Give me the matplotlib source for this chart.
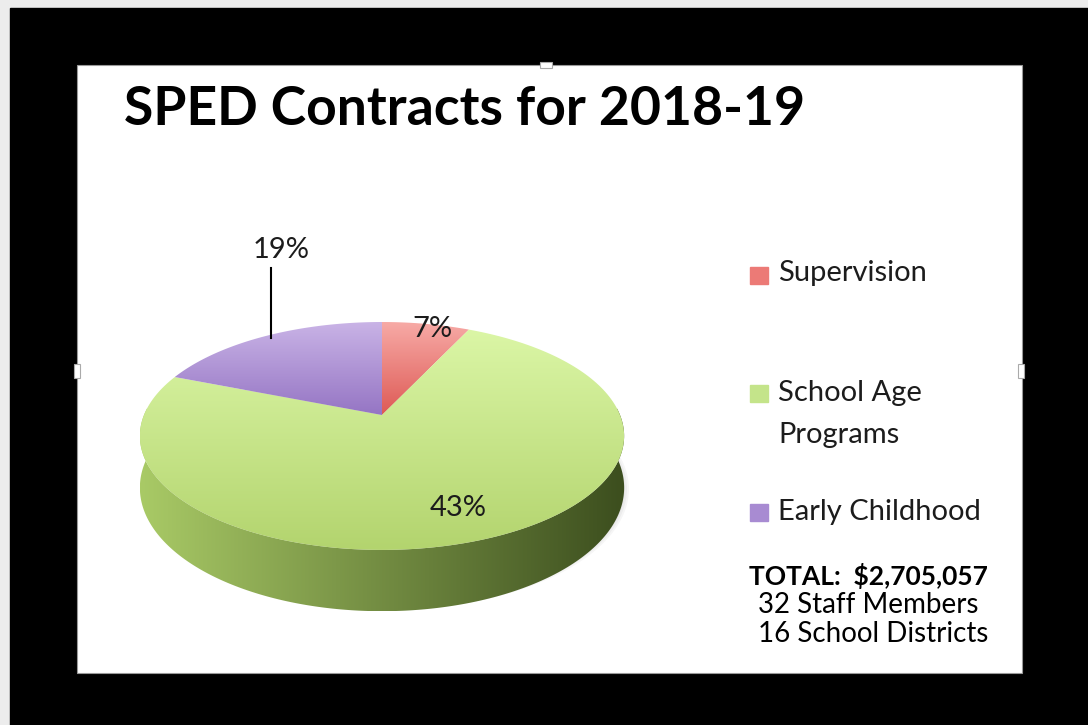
import numpy as np
import matplotlib
matplotlib.use("Agg")
import matplotlib.pyplot as plt
from matplotlib.patches import Polygon, Rectangle, Ellipse
from matplotlib.colors import LinearSegmentedColormap

# ---- data ----
categories = ["Supervision", "School Age\nPrograms", "Early Childhood"]
shares = [7, 74, 19]                 # visual slice sizes (percent of circle)
slice_labels = ["7%", "43%", "19%"]  # labels as printed on the chart
title = "SPED Contracts for 2018-19"
notes = ["TOTAL:  $2,705,057", "32 Staff Members", "16 School Districts"]

# colours (top-light, bottom-dark) per slice
top_colors = [("#f7aaa6", "#de5a55"), ("#dbf6a6", "#b3d46e"), ("#c9b3e6", "#9575c4")]
legend_colors = ["#ec7a76", "#c4e48a", "#a88bd2"]

W, H = 1088, 725
fig = plt.figure(figsize=(W / 100, H / 100), dpi=100)
ax = fig.add_axes([0, 0, 1, 1])
ax.set_xlim(0, W)
ax.set_ylim(H, 0)
ax.axis("off")

# background frame
ax.add_patch(Rectangle((0, 0), W, H, color="#ececec", zorder=0))
ax.add_patch(Rectangle((10, 8), W - 10, H - 8, color="black", zorder=1))
ax.add_patch(Rectangle((77, 65), 945, 608, facecolor="white", edgecolor="#999999", lw=0.8, zorder=2))
for (hx, hy, hw, hh) in [(540, 62, 12, 6), (74, 364, 6, 14), (1018, 364, 6, 14)]:
    ax.add_patch(Rectangle((hx, hy), hw, hh, facecolor="white", edgecolor="#aaaaaa", lw=0.8, zorder=3))

# ---- perspective pie geometry ----
cx, cy = 382, 415
R, S, k, T = 238, 110.1, 0.184, 50


def proj(t, drop=0.0):
    x, y = np.cos(t), np.sin(t)
    d = 1 + k * y
    return cx + R * x / d, cy - S * y / d + drop / d


def grad_fill(poly, c1, c2, direction="v", z=5):
    ax.add_patch(poly)
    poly.set_facecolor("none")
    poly.set_edgecolor("none")
    poly.set_zorder(z)
    verts = poly.get_xy()
    x0, x1 = verts[:, 0].min(), verts[:, 0].max()
    y0, y1 = verts[:, 1].min(), verts[:, 1].max()
    cmap = LinearSegmentedColormap.from_list("g", [c1, c2])
    g = np.linspace(0, 1, 256)
    arr = g[:, None] if direction == "v" else g[None, :]
    im = ax.imshow(arr, cmap=cmap, extent=[x0, x1, y1, y0], aspect="auto",
                   interpolation="bilinear", zorder=z)
    im.set_clip_path(poly)


# faint shadow
for i in range(3):
    ax.add_patch(Ellipse((cx + 4, cy + 74), 2 * R + 2 + i * 4, 236 + i * 3,
                         color="black", alpha=0.035, lw=0, zorder=3))

# side (front half)
ts = np.linspace(np.pi * 0.98, 2 * np.pi * 1.01, 300)
top = np.array([proj(t) for t in ts])
bot = np.array([proj(t, T) for t in ts[::-1]])
side = Polygon(np.vstack([top, bot]), closed=True)
grad_fill(side, "#a9ca66", "#3c4e1e", direction="h", z=4)

# top face slices: start at 12 o'clock, go clockwise
angles = np.cumsum([0] + shares) / 100 * 2 * np.pi
for i, sh in enumerate(shares):
    a0 = np.pi / 2 - angles[i]
    a1 = np.pi / 2 - angles[i + 1]
    tt = np.linspace(a0, a1, 200)
    pts = [proj(t) for t in tt]
    poly = Polygon(np.vstack([[cx, cy], pts]), closed=True)
    c1, c2 = top_colors[i]
    grad_fill(poly, c1, c2, direction="v", z=6)

# slice labels
font = "Lato"
tc = "#1c1c1c"
ax.text(432, 329, slice_labels[0], fontsize=21, family=font, ha="center", va="center", zorder=8, color=tc)
ax.text(458, 508, slice_labels[1], fontsize=21, family=font, ha="center", va="center", zorder=8, color=tc)
ax.text(281, 250, slice_labels[2], fontsize=21, family=font, ha="center", va="center", zorder=8, color=tc)
ax.plot([271, 271], [268, 338], color="black", lw=1.5, zorder=8)

# title
ax.text(124, 125, title, fontsize=38.5, family=font, weight="bold", ha="left", va="baseline", zorder=8, color="black")

# legend
sq_y = [275, 393, 512]
first_base = [281, 401, 520]
for i, (lab, col) in enumerate(zip(categories, legend_colors)):
    ax.add_patch(Rectangle((750, sq_y[i] - 8), 18, 17, color=col, zorder=8))
    for j, line in enumerate(lab.split("\n")):
        ax.text(778, first_base[i] + 42 * j, line, fontsize=21, family=font, ha="left",
                va="baseline", zorder=8, color=tc)

# notes
ax.text(749, 585, notes[0], fontsize=19, family=font, weight="bold", ha="left", va="baseline", zorder=8)
ax.text(758, 613, notes[1], fontsize=20, family=font, ha="left", va="baseline", zorder=8)
ax.text(758, 642, notes[2], fontsize=20, family=font, ha="left", va="baseline", zorder=8)

fig.savefig("out.png", dpi=100)
